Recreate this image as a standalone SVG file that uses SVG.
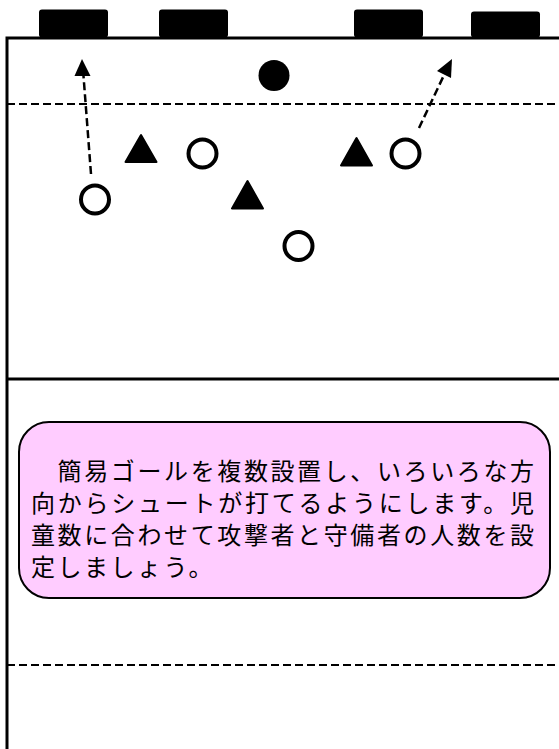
<svg xmlns="http://www.w3.org/2000/svg" width="559" height="749" viewBox="0 0 559 749">
<style>
.goal{fill:#000}
.field{stroke:#000;stroke-width:3;fill:none}
.dash{stroke:#000;stroke-width:2;stroke-dasharray:8 4;fill:none}
.tri{fill:#000;stroke:#000;stroke-width:2;stroke-linejoin:round}
.att{fill:#fff;stroke:#000;stroke-width:4}
.mv{stroke:#000;stroke-width:2.5;stroke-dasharray:8 4;fill:none}
.txt{font-family:"Noto Sans CJK JP",sans-serif;font-size:24px;fill:#000}
</style>
<rect width="559" height="749" fill="#fff"/>
<g id="field">
<path class="field" d="M7,749 V38 H559"/>
<line class="dash" x1="7" y1="104" x2="559" y2="104"/>
<line class="field" x1="7" y1="379" x2="559" y2="379"/>
<line class="dash" x1="7" y1="665" x2="559" y2="665"/>
</g>
<g id="goals">
<rect id="goal1" class="goal" x="39" y="9.5" width="69" height="28" rx="3"/>
<rect id="goal2" class="goal" x="159" y="9.5" width="69" height="28" rx="3"/>
<rect id="goal3" class="goal" x="354" y="9.5" width="69" height="28" rx="3"/>
<rect id="goal4" class="goal" x="471" y="11.5" width="69" height="26" rx="3"/>
</g>
<g id="ball"><circle cx="274" cy="75.5" r="15.5" fill="#000"/></g>
<g id="defenders">
<polygon id="d1" class="tri" points="141,135 125.5,162 156.5,162"/>
<polygon id="d2" class="tri" points="356.5,138 341,165.5 372,165.5"/>
<polygon id="d3" class="tri" points="247.5,181 232,208.5 263,208.5"/>
</g>
<g id="attackers">
<circle id="a1" class="att" cx="202.5" cy="153.5" r="14"/>
<circle id="a2" class="att" cx="405.5" cy="153.5" r="14"/>
<circle id="a3" class="att" cx="95" cy="199.5" r="14"/>
<circle id="a4" class="att" cx="298.5" cy="246" r="14"/>
</g>
<g id="connectors">
<line class="mv" x1="91" y1="174" x2="83.5" y2="76"/>
<polygon points="82,59 74.5,76 90.5,76" fill="#000"/>
<line class="mv" x1="419" y1="128" x2="444.5" y2="74"/>
<polygon points="452,59 437,71 451,78" fill="#000"/>
</g>
<g id="note">
<rect x="19" y="422" width="531" height="176" rx="30" fill="#ffccff" stroke="#000" stroke-width="2"/>
<text class="txt" x="31" y="480" textLength="503" lengthAdjust="spacing">　簡易ゴールを複数設置し、いろいろな方</text>
<text class="txt" x="31" y="512" textLength="503" lengthAdjust="spacing">向からシュートが打てるようにします。児</text>
<text class="txt" x="31" y="544" textLength="503" lengthAdjust="spacing">童数に合わせて攻撃者と守備者の人数を設</text>
<text class="txt" x="31" y="576" letter-spacing="2.5">定しましょう。</text>
</g>
</svg>
